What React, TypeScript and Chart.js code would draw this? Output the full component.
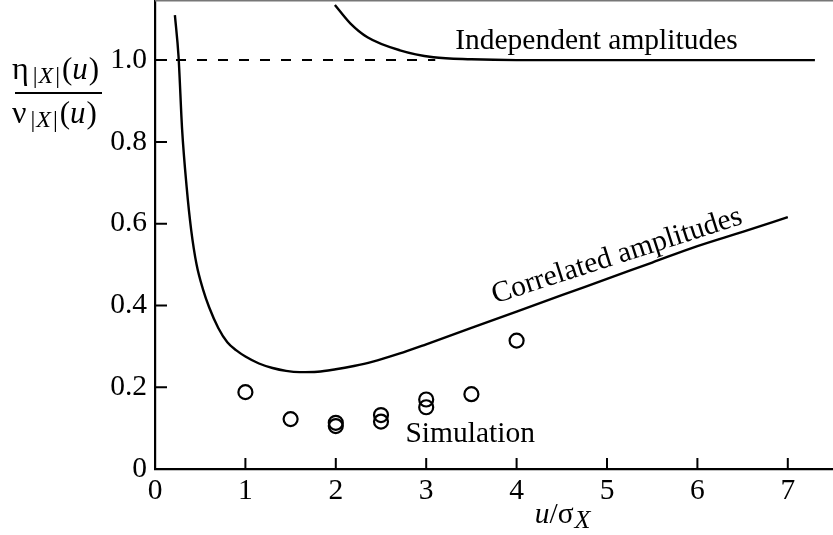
import { useEffect, useRef } from 'react';
import { Chart, registerables } from 'chart.js';

Chart.register(...registerables);

const xTicks = [0, 1, 2, 3, 4, 5, 6, 7];
const xTickLabels = ['0', '1', '2', '3', '4', '5', '6', '7'];
const yTicks = [0, 0.2, 0.4, 0.6, 0.8, 1.0];
const yTickLabels = ['0', '0.2', '0.4', '0.6', '0.8', '1.0'];

const correlatedX = [0.22, 0.26, 0.3, 0.35, 0.4, 0.46, 0.53, 0.6, 0.7, 0.8, 0.9, 1.0, 1.15, 1.3, 1.45, 1.6, 1.8, 2.0, 2.2, 2.4, 2.7, 3.0, 3.5, 4.0, 4.5, 5.0, 5.5, 6.0, 6.5, 7.0];
const correlatedY = [1.11, 1.01, 0.83, 0.69, 0.585, 0.5, 0.44, 0.395, 0.345, 0.31, 0.29, 0.275, 0.258, 0.247, 0.24, 0.237, 0.238, 0.244, 0.252, 0.262, 0.282, 0.305, 0.345, 0.385, 0.425, 0.465, 0.505, 0.545, 0.58, 0.616];

const independentX = [1.99, 2.16, 2.35, 2.71, 3.08, 3.5, 4.0, 5.0, 6.0, 7.3];
const independentY = [1.135, 1.09, 1.056, 1.024, 1.007, 1.002, 1.0, 1.0, 1.0, 1.0];

const referenceX = [0, 3.1];
const referenceY = [1.0, 1.0];

const simulationX = [1, 1.5, 2, 2, 2.5, 2.5, 3, 3, 3.5, 4];
const simulationY = [0.188, 0.122, 0.113, 0.105, 0.132, 0.116, 0.17, 0.151, 0.183, 0.314];

const labelTexts = ['Independent amplitudes', 'Simulation', 'Correlated amplitudes'];
const labelX = [3.32, 2.77, 3.76];
const labelY = [1.027, 0.066, 0.405];
const labelRot = [0, 0, -17.8];

const FONT = '"Liberation Serif", "Times New Roman", serif';
const FS = 29.5;

const zip = (xs: number[], ys: number[]) => xs.map((x, i) => ({ x, y: ys[i] }));

type Run = { t: string; italic?: boolean; size?: number; dy?: number; gap?: number };

function drawRuns(ctx: CanvasRenderingContext2D, runs: Run[], x: number, y: number) {
  let cx = x;
  for (const r of runs) {
    cx += r.gap ?? 0;
    ctx.font = `${r.italic ? 'italic ' : ''}${r.size ?? FS}px ${FONT}`;
    ctx.fillText(r.t, cx, y + (r.dy ?? 0));
    cx += ctx.measureText(r.t).width;
  }
}

const fractionRuns = (g: string): Run[] => [
  { t: g, size: 32 },
  { t: '|', size: 24, dy: 4, gap: 4 },
  { t: 'X', italic: true, size: 24, dy: 4, gap: 1 },
  { t: '|', size: 24, dy: 4, gap: 2 },
  { t: '(', size: 31, gap: 2 },
  { t: 'u', italic: true, size: 31 },
  { t: ')', size: 31, gap: 1 },
];

const decorPlugin = {
  id: 'decor',
  afterDraw(chart: any) {
    const ctx: CanvasRenderingContext2D = chart.ctx;
    const xs = chart.scales.x;
    const ys = chart.scales.y;
    const area = chart.chartArea;
    ctx.save();
    ctx.strokeStyle = '#000';
    ctx.lineWidth = 2;
    // inward ticks
    ctx.beginPath();
    for (const v of xTicks) {
      if (v === 0) continue;
      const px = xs.getPixelForValue(v);
      ctx.moveTo(px, area.bottom);
      ctx.lineTo(px, area.bottom - 11);
    }
    for (const v of yTicks) {
      if (v === 0) continue;
      const py = ys.getPixelForValue(v);
      ctx.moveTo(area.left, py);
      ctx.lineTo(area.left + 12, py);
    }
    ctx.stroke();
    // top frame line
    ctx.strokeStyle = '#777';
    ctx.lineWidth = 1.5;
    ctx.beginPath();
    ctx.moveTo(area.left, area.top + 0.75);
    ctx.lineTo(area.right, area.top + 0.75);
    ctx.stroke();

    ctx.fillStyle = '#000';
    ctx.textBaseline = 'alphabetic';
    ctx.textAlign = 'left';
    // annotations
    for (let i = 0; i < labelTexts.length; i++) {
      const px = xs.getPixelForValue(labelX[i]);
      const py = ys.getPixelForValue(labelY[i]);
      ctx.save();
      ctx.translate(px, py);
      ctx.rotate((labelRot[i] * Math.PI) / 180);
      ctx.font = `${FS}px ${FONT}`;
      ctx.fillText(labelTexts[i], 0, 0);
      ctx.restore();
    }
    // x axis title u/σ_X
    const tx = xs.getPixelForValue(4.2);
    drawRuns(ctx, [
      { t: 'u', italic: true },
      { t: '/' },
      { t: 'σ' },
      { t: 'X', italic: true, size: 26, dy: 5, gap: 1 },
    ], tx, chart.height - 12);
    // y axis title fraction
    drawRuns(ctx, fractionRuns('η'), 12, 79);
    ctx.strokeStyle = '#000';
    ctx.lineWidth = 2;
    ctx.beginPath();
    ctx.moveTo(15, 93);
    ctx.lineTo(102, 93);
    ctx.stroke();
    drawRuns(ctx, fractionRuns('ν'), 12, 123);
    ctx.restore();
  },
};

export default function App() {
  const ref = useRef<HTMLCanvasElement>(null);
  useEffect(() => {
    if (!ref.current) return;
    const chart = new Chart(ref.current, {
      type: 'scatter',
      data: {
        datasets: [
          {
            label: 'Correlated amplitudes',
            data: zip(correlatedX, correlatedY),
            showLine: true,
            borderColor: '#000',
            borderWidth: 2.4,
            pointRadius: 0,
            cubicInterpolationMode: 'monotone',
          },
          {
            label: 'Independent amplitudes',
            data: zip(independentX, independentY),
            showLine: true,
            borderColor: '#000',
            borderWidth: 2.4,
            pointRadius: 0,
            cubicInterpolationMode: 'monotone',
          },
          {
            label: 'Reference',
            data: zip(referenceX, referenceY),
            showLine: true,
            borderColor: '#000',
            borderWidth: 2,
            borderDash: [10, 11],
            pointRadius: 0,
          },
          {
            label: 'Simulation',
            data: zip(simulationX, simulationY),
            showLine: false,
            pointRadius: 7,
            pointBorderWidth: 2.2,
            pointBorderColor: '#000',
            pointBackgroundColor: 'rgba(0,0,0,0)',
          },
        ],
      } as any,
      options: {
        animation: false,
        responsive: false,
        layout: { padding: 0, autoPadding: false },
        plugins: { legend: { display: false }, tooltip: { enabled: false } },
        scales: {
          x: {
            type: 'linear',
            min: 0,
            max: 7.5,
            grid: { display: false, drawTicks: false },
            border: { display: true, color: '#000', width: 2.2 },
            afterBuildTicks: (s: any) => {
              s.ticks = xTicks.map((v) => ({ value: v }));
            },
            afterFit: (s: any) => {
              s.height = 66;
              s.paddingLeft = 0;
              s.paddingRight = 0;
            },
            ticks: {
              color: '#000',
              font: { family: FONT, size: FS },
              padding: 5,
              maxRotation: 0,
              autoSkip: false,
              callback: (v: any) => xTickLabels[xTicks.indexOf(Number(v))] ?? '',
            },
          },
          y: {
            type: 'linear',
            min: 0,
            max: 1.147,
            grid: { display: false, drawTicks: false },
            border: { display: true, color: '#000', width: 2.2 },
            afterBuildTicks: (s: any) => {
              s.ticks = yTicks.map((v) => ({ value: v }));
            },
            afterFit: (s: any) => {
              s.width = 155;
              s.paddingTop = 0;
              s.paddingBottom = 0;
            },
            ticks: {
              color: '#000',
              font: { family: FONT, size: FS },
              padding: 8,
              autoSkip: false,
              callback: (v: any) => {
                const i = yTicks.findIndex((t) => Math.abs(t - Number(v)) < 1e-9);
                return i >= 0 ? yTickLabels[i] : '';
              },
            },
          },
        },
      },
      plugins: [decorPlugin],
    });
    return () => chart.destroy();
  }, []);
  return (
    <div style={{ position: 'fixed', left: 0, top: 0, width: 833, height: 535, background: '#fff' }}>
      <canvas ref={ref} width={833} height={535} />
    </div>
  );
}
